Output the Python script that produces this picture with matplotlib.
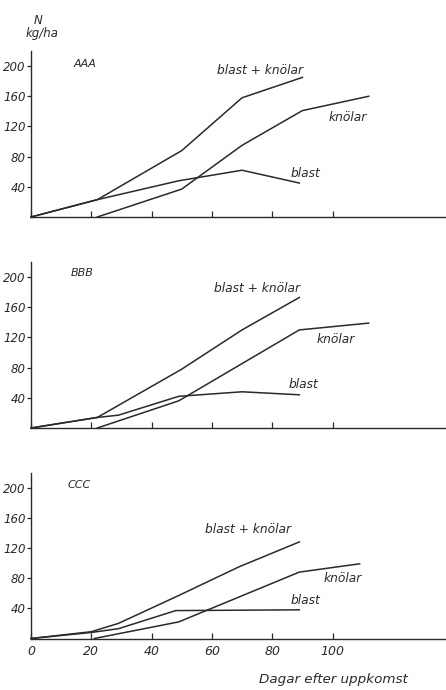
import matplotlib
matplotlib.use("Agg")
import matplotlib.pyplot as plt

W, H = 446, 690
fig = plt.figure(figsize=(W / 100, H / 100), dpi=100)

# ---- data (days after emergence, N kg/ha) ----
panel_names = ["AAA", "BBB", "CCC"]

a_tot_x = [0, 22, 50, 70, 90]
a_tot_y = [0, 23, 88, 158, 185]
a_kn_x = [22, 50, 70, 90, 112]
a_kn_y = [0, 37, 95, 141, 160]
a_bl_x = [0, 22, 49, 70, 89]
a_bl_y = [0, 23, 48, 62, 45]

b_tot_x = [0, 22, 50, 70, 89]
b_tot_y = [0, 14, 78, 130, 173]
b_kn_x = [22, 49, 89, 112]
b_kn_y = [0, 36, 130, 139]
b_bl_x = [0, 22, 29, 49, 70, 89]
b_bl_y = [0, 14, 17, 42, 48, 44]

c_tot_x = [0, 20, 29, 49, 69, 89]
c_tot_y = [0, 9, 20, 57, 95, 128]
c_kn_x = [21, 49, 89, 109]
c_kn_y = [0, 22, 88, 99]
c_bl_x = [0, 20, 29, 48, 89]
c_bl_y = [0, 8, 13, 37, 38]

y_ticks = [40, 80, 120, 160, 200]
x_ticks = [0, 20, 40, 60, 80, 100]
x_labels = ["0", "20", "40", "60", "80", "100"]

series = [
    [(a_tot_x, a_tot_y), (a_kn_x, a_kn_y), (a_bl_x, a_bl_y)],
    [(b_tot_x, b_tot_y), (b_kn_x, b_kn_y), (b_bl_x, b_bl_y)],
    [(c_tot_x, c_tot_y), (c_kn_x, c_kn_y), (c_bl_x, c_bl_y)],
]
label_texts = ["blast + knölar", "knölar", "blast"]
label_pos = [
    [(76, 194), (105, 132), (91, 58)],
    [(75, 185), (101, 117), (90.5, 58)],
    [(72, 145), (103.5, 80), (91, 51)],
]
name_pos = [(18, 203), (17, 205), (16, 204)]

baselines = [217, 428, 638.5]
axh = 166
left_px = 31
ink = "#2a2a2a"
fnt = dict(family="DejaVu Sans", style="italic", color=ink)

for i in range(3):
    b = baselines[i]
    ax = fig.add_axes([left_px / W, (H - b) / H, (W - left_px) / W, axh / H])
    ax.set_xlim(0, (W - left_px) / 3.015)
    ax.set_ylim(0, 220)
    for sp in ["top", "right"]:
        ax.spines[sp].set_visible(False)
    for sp in ["left", "bottom"]:
        ax.spines[sp].set_color(ink)
        ax.spines[sp].set_linewidth(1.0)
    for (xs, ys) in series[i]:
        ax.plot(xs, ys, color=ink, lw=1.1, solid_joinstyle="miter", clip_on=False)
    for t, (px, py) in zip(label_texts, label_pos[i]):
        ax.text(px, py, t, ha="center", va="center", fontsize=8.8, **fnt)
    ax.text(name_pos[i][0], name_pos[i][1], panel_names[i], ha="center", va="center",
            fontsize=8, **fnt)
    ax.set_yticks(y_ticks)
    ax.set_yticklabels([str(v) for v in y_ticks], fontsize=8.5, **fnt)
    ax.tick_params(axis="y", direction="out", length=3, width=0.9, pad=1, colors=ink)
    ax.set_xticks(x_ticks)
    if i == 2:
        ax.set_xticklabels(x_labels, fontsize=9, **fnt)
        ax.tick_params(axis="x", direction="in", length=4, width=0.9, pad=5, colors=ink)
    else:
        ax.set_xticklabels([])
        ax.tick_params(axis="x", direction="in", length=4, width=0.9, colors=ink)

fig.text(38 / W, 1 - 20 / H, "N", ha="center", va="center", fontsize=8.5, **fnt)
fig.text(42 / W, 1 - 33 / H, "kg/ha", ha="center", va="center", fontsize=8.5, **fnt)
fig.text(333 / W, 1 - 680 / H, "Dagar efter uppkomst", ha="center", va="center",
         fontsize=9.7, **fnt)

fig.savefig("out.png", dpi=100, facecolor="white")
